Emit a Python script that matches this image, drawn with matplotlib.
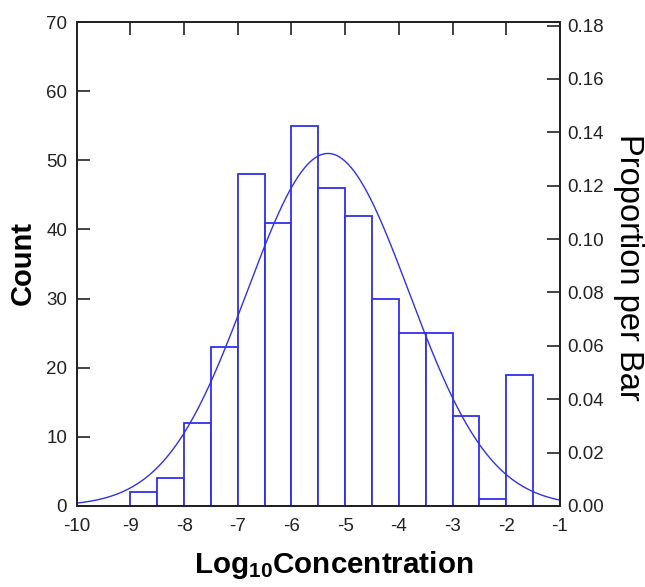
import numpy as np
import matplotlib
matplotlib.use("Agg")
import matplotlib.pyplot as plt

# bins de 0.5 em log10(concentracao)
bin_left = [-9.0, -8.5, -8.0, -7.5, -7.0, -6.5, -6.0, -5.5,
            -5.0, -4.5, -4.0, -3.5, -3.0, -2.5, -2.0]
counts = [2, 4, 12, 23, 48, 41, 55, 46, 42, 30, 25, 25, 13, 1, 19]
bin_width = 0.5

# curva normal ajustada
mu = -5.32
sigma = 1.51

x_ticks = [-10, -9, -8, -7, -6, -5, -4, -3, -2, -1]
y_ticks = [0, 10, 20, 30, 40, 50, 60, 70]
prop_ticks = [0.00, 0.02, 0.04, 0.06, 0.08, 0.10, 0.12, 0.14, 0.16, 0.18]

BLUE = "#3030EE"
INK = "#222222"

plt.rcParams["font.family"] = ["Liberation Sans", "DejaVu Sans"]
plt.rcParams["axes.unicode_minus"] = False
plt.rcParams["mathtext.fontset"] = "custom"
plt.rcParams["mathtext.bf"] = "Liberation Sans:bold"
plt.rcParams["mathtext.rm"] = "Liberation Sans"

fig = plt.figure(figsize=(6.45, 5.87), dpi=100)
ax = fig.add_axes([0.119, 0.138, 0.749, 0.8245])

n_total = sum(counts)
ax.bar(bin_left, counts, width=bin_width, align="edge",
       facecolor="white", edgecolor=BLUE, linewidth=1.3, zorder=2)

xs = np.linspace(-10, -1, 400)
pdf = np.exp(-0.5 * ((xs - mu) / sigma) ** 2) / (sigma * np.sqrt(2 * np.pi))
ax.plot(xs, n_total * bin_width * pdf, color=BLUE, lw=1.0, zorder=3)

ax.set_xlim(-10, -1)
ax.set_ylim(0, 70)
ax.set_xticks(x_ticks)
ax.set_yticks(y_ticks)
for s in ax.spines.values():
    s.set_color(INK)
    s.set_linewidth(1.3)

ax.tick_params(axis="y", direction="in", length=9.5, width=1.2, color=INK,
               labelsize=13.5, labelcolor=INK, pad=7)
ax.tick_params(axis="x", direction="in", length=0, labelsize=13.5,
               labelcolor=INK, pad=9)

# ticks de cima (sem rotulos)
axt = ax.secondary_xaxis("top")
axt.set_xticks(x_ticks[1:-1])
axt.tick_params(direction="in", length=9.5, width=1.2, color=INK, labeltop=False)
axt.spines["top"].set_visible(False)

# eixo da direita: proporcao por barra
ax2 = ax.twinx()
ax2.set_ylim(0, 70 / n_total)
ax2.set_yticks(prop_ticks)
ax2.set_yticklabels([f"{p:.2f}" for p in prop_ticks])
ax2.tick_params(direction="in", length=9.5, width=1.2, color=INK,
                labelsize=13.5, labelcolor=INK, pad=5)
for s in ax2.spines.values():
    s.set_color(INK)
    s.set_linewidth(1.3)

fig.text(0.036, 0.552, "Count", rotation=90, ha="center", va="center",
         fontsize=21, fontweight="bold", color="black")
fig.text(0.975, 0.545, "Proportion per Bar", rotation=270, ha="center",
         va="center", fontsize=23.5, color="black")
fig.text(0.517, 0.024, r"$\mathbf{Log_{10}Concentration}$", ha="center",
         va="baseline", fontsize=21.3, color="black")

fig.savefig("out.png", dpi=100)
